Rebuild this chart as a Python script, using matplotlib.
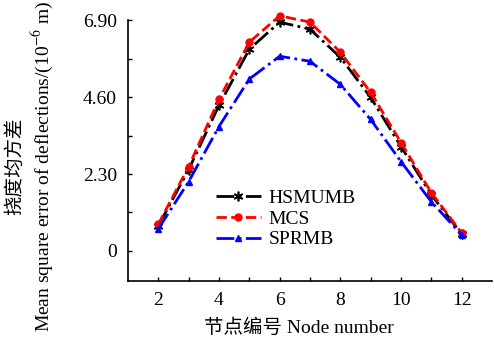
import numpy as np
import matplotlib
matplotlib.use("Agg")
import matplotlib.pyplot as plt

# ---- data ----
nodes = [2, 3, 4, 5, 6, 7, 8, 9, 10, 11, 12]
hsmumb = [0.75, 2.43, 4.35, 6.03, 6.84, 6.63, 5.79, 4.59, 3.12, 1.68, 0.50]
mcs = [0.80, 2.52, 4.53, 6.24, 7.03, 6.84, 5.94, 4.74, 3.24, 1.74, 0.54]
sprmb = [0.66, 2.07, 3.72, 5.14, 5.82, 5.67, 4.98, 3.93, 2.67, 1.47, 0.48]

y_ticks = [0, 2.30, 4.60, 6.90]
y_ticklabels = ["0", "2.30", "4.60", "6.90"]
x_ticks = [2, 4, 6, 8, 10, 12]

plt.rcParams["font.family"] = ["Liberation Serif", "Noto Sans CJK SC"]
plt.rcParams["mathtext.fontset"] = "stix"
plt.rcParams["font.size"] = 14

fig = plt.figure(figsize=(4.94, 3.47), dpi=100)
ax = fig.add_axes([0.259, 0.190, 0.737, 0.752])

# asterisk-style marker for HSMUMB
ax.plot(nodes, hsmumb, color="black", linestyle="-.", marker=(6, 2, 0),
        markersize=7, markeredgewidth=1.2, linewidth=2, label="HSMUMB",
        clip_on=False)
ax.plot(nodes, mcs, color="red", linestyle="--", marker="o", markersize=5,
        linewidth=2, label="MCS", clip_on=False)
ax.plot(nodes, sprmb, color="blue", linestyle="-.", marker="^", markersize=5,
        linewidth=2, label="SPRMB", clip_on=False)

ax.set_xlim(1, 13)
ax.set_ylim(-0.9, 6.9)
ax.set_xticks(x_ticks)
ax.set_xticks(range(3, 13, 2), minor=True)
ax.set_yticks(y_ticks)
ax.set_yticklabels(y_ticklabels)
ax.set_yticks([1.15, 3.45, 5.75], minor=True)
ax.tick_params(which="both", direction="in", length=3, width=1)
ax.tick_params(axis="x", pad=8)
ax.tick_params(axis="y", pad=8)

for s in ["top", "right"]:
    ax.spines[s].set_visible(False)
for s in ["left", "bottom"]:
    ax.spines[s].set_linewidth(1.2)

ax.set_xlabel("节点编号 Node number")
ax.xaxis.set_label_coords(0.47, -0.145)
ax.set_ylabel("挠度均方差\nMean square error of deflections/(10$^{-6}$ m)",
              linespacing=1.25)
ax.yaxis.set_label_coords(-0.20, 0.44)

ax.legend(loc="upper left", bbox_to_anchor=(0.22, 0.38), frameon=False,
          handlelength=2.3, labelspacing=0.15, handletextpad=0.4,
          borderaxespad=0, fontsize=14)

fig.savefig("out.png", dpi=100)
